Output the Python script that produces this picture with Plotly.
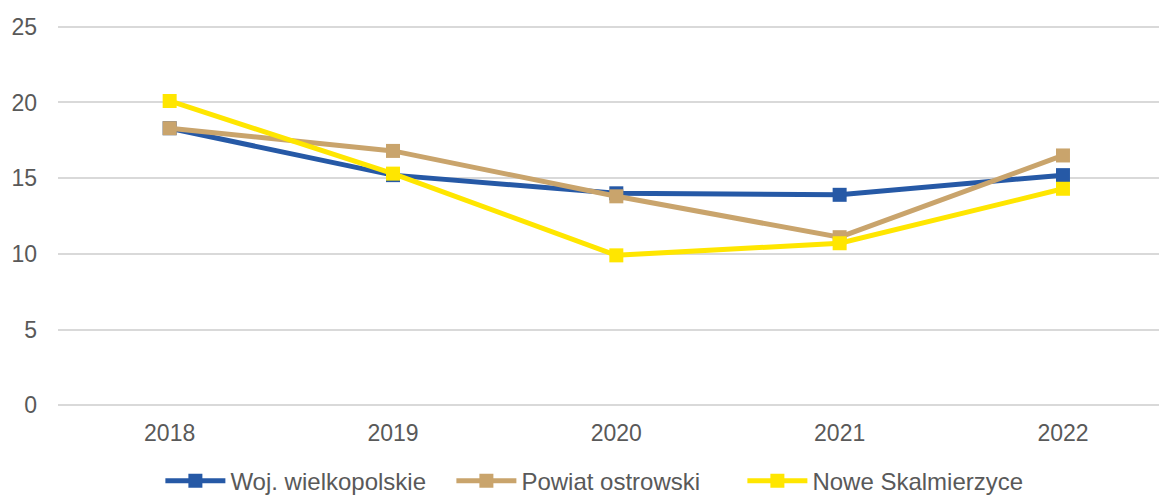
import plotly.graph_objects as go

years = ["2018", "2019", "2020", "2021", "2022"]
woj = [18.3, 15.2, 14.0, 13.9, 15.2]
powiat = [18.3, 16.8, 13.8, 11.1, 16.5]
nowe = [20.1, 15.3, 9.9, 10.7, 14.3]

series = [
    ("Woj. wielkopolskie", woj, "#2659A6"),
    ("Powiat ostrowski", powiat, "#C9A46C"),
    ("Nowe Skalmierzyce", nowe, "#FFE600"),
]

fig = go.Figure()
for name, vals, col in series:
    fig.add_trace(go.Scatter(
        x=years, y=vals, name=name, mode="lines+markers",
        line=dict(color=col, width=5),
        marker=dict(symbol="square", size=14, color=col),
    ))

fig.update_layout(
    width=1159, height=495,
    margin=dict(l=58, r=0, t=25, b=88, autoexpand=False),
    paper_bgcolor="white", plot_bgcolor="white",
    font=dict(family="Liberation Sans, Arial, sans-serif", size=23, color="#595959"),
    showlegend=True,
    legend=dict(orientation="h", x=0.515, xanchor="center", xref="container",
                y=0.028, yanchor="middle", yref="container",
                font=dict(size=24, color="#595959"), itemwidth=60,
                entrywidth=216, entrywidthmode="pixels"),
    xaxis=dict(type="category", range=[-0.5, 4.43], showgrid=False, zeroline=False,
               showline=False, ticks="", tickfont=dict(size=23),
               ticklabelstandoff=10, automargin=False),
    yaxis=dict(range=[-0.12, 25.12], tickvals=[0, 5, 10, 15, 20, 25], showgrid=True,
               gridcolor="#D9D9D9", gridwidth=1.5,
               zeroline=False, showline=False, ticks="", tickfont=dict(size=23),
               ticklabelstandoff=20, automargin=False),
)

fig.write_html("out.html", config={"displayModeBar": False},
               post_script="document.body.style.margin='0';document.body.style.overflow='hidden';")
